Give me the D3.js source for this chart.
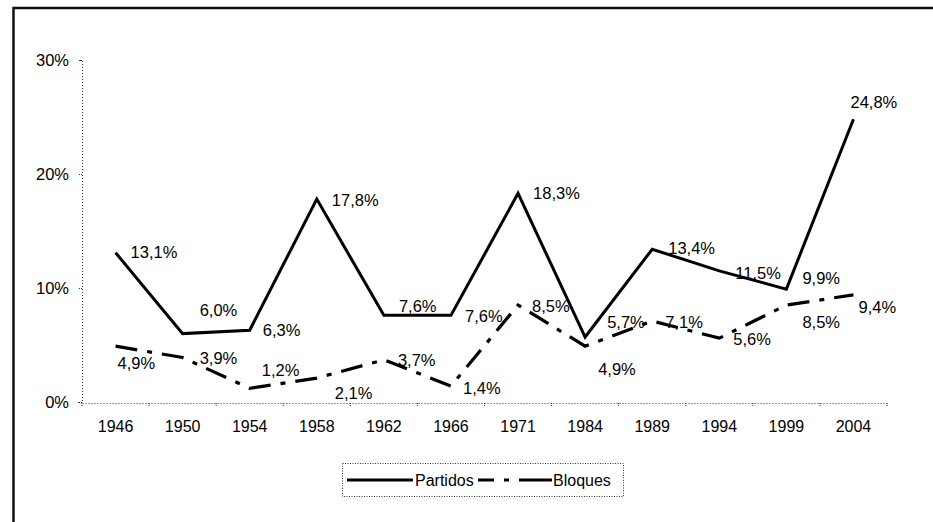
<!DOCTYPE html>
<html>
<head>
<meta charset="utf-8">
<script src="https://cdn.jsdelivr.net/npm/d3@7"></script>
<style>
  html, body { margin: 0; padding: 0; background: #fff; }
  svg { display: block; font-family: Arial, "Liberation Sans", sans-serif; }
</style>
</head>
<body>
<div id="wrapper"></div>
<script>
// DATA
const years = ["1946", "1950", "1954", "1958", "1962", "1966", "1971", "1984", "1989", "1994", "1999", "2004"]
const partidos = [13.1, 6.0, 6.3, 17.8, 7.6, 7.6, 18.3, 5.7, 13.4, 11.5, 9.9, 24.8]
const bloques = [4.9, 3.9, 1.2, 2.1, 3.7, 1.4, 8.5, 4.9, 7.1, 5.6, 8.5, 9.4]
const yTicks = [0, 10, 20, 30]
const seriesNames = ["Partidos", "Bloques"]

const fmt = v => v.toFixed(1).replace(".", ",") + "%"

// DIMENSIONS
const dimensions = {
  width: 933,
  height: 522,
  margin: { top: 60, right: 46, bottom: 120, left: 82 }
}
dimensions.boundedWidth = dimensions.width - dimensions.margin.left - dimensions.margin.right
dimensions.boundedHeight = 402 - dimensions.margin.top

const svg = d3.select("#wrapper").append("svg")
  .attr("width", dimensions.width)
  .attr("height", dimensions.height)

// scanned page frame (left and top edges only)
svg.append("path")
  .attr("d", "M13.5,522 V8 H933")
  .attr("fill", "none")
  .attr("stroke", "#111")
  .attr("stroke-width", 2.5)

const bounds = svg.append("g")
  .attr("transform", `translate(${dimensions.margin.left},${dimensions.margin.top})`)

// SCALES
const xScale = d3.scaleBand()
  .domain(years)
  .range([0, dimensions.boundedWidth])
  .padding(0)

const yScale = d3.scaleLinear()
  .domain([0, 30])
  .range([dimensions.boundedHeight, 0])

const xc = d => xScale(d) + xScale.bandwidth() / 2

// AXES
const yAxis = bounds.append("g")
  .call(d3.axisLeft(yScale).tickValues(yTicks).tickFormat(d => d + "%").tickSize(4).tickPadding(9))
yAxis.select(".domain").attr("stroke", "#333").attr("stroke-dasharray", "1,2")
yAxis.selectAll(".tick line").attr("stroke", "#333").attr("stroke-dasharray", "1,1")
yAxis.selectAll("text").attr("fill", "#000").style("font-size", "16.5px")

const xAxis = bounds.append("g")
  .attr("transform", `translate(0,${dimensions.boundedHeight + 1})`)
  .call(d3.axisBottom(xScale).tickSize(0).tickPadding(18))
xAxis.select(".domain").attr("stroke", "#333").attr("stroke-dasharray", "1,2")
xAxis.selectAll("text").attr("fill", "#000").style("font-size", "16px")

// category boundary ticks
xAxis.selectAll(".bound")
  .data(years.concat(["end"]))
  .enter().append("line")
  .attr("x1", (d, i) => i * xScale.bandwidth())
  .attr("x2", (d, i) => i * xScale.bandwidth())
  .attr("y1", 0).attr("y2", 4)
  .attr("stroke", "#333")
  .attr("stroke-dasharray", "1,1")

// LINES
const line = d3.line()
  .x((d, i) => xc(years[i]))
  .y(d => yScale(d))

bounds.append("path")
  .datum(partidos)
  .attr("d", line)
  .attr("fill", "none")
  .attr("stroke", "#000")
  .attr("stroke-width", 3)
  .attr("stroke-linejoin", "miter")

bounds.append("path")
  .datum(bloques)
  .attr("d", line)
  .attr("fill", "none")
  .attr("stroke", "#000")
  .attr("stroke-width", 3.2)
  .attr("stroke-dasharray", "22,10,5,10")

// DATA LABELS (offsets from each point, in px)
const partidosLabelOffset = [[15, 0], [17, -23], [13, 0], [15, 1], [15, -9], [14, 1], [15, 0], [22, -15], [16, -1], [16, 2], [16, -11], [-3, -17]]
const bloquesLabelOffset = [[2, 17], [17, 1], [12, -18], [18, 15], [14, 0], [12, 2], [14, 1], [13, 23], [13, 1], [14, 1], [16, 17], [5, 12]]

function drawLabels(values, offsets) {
  bounds.append("g").selectAll("text")
    .data(values)
    .enter().append("text")
    .attr("x", (d, i) => xc(years[i]) + offsets[i][0])
    .attr("y", (d, i) => yScale(d) + offsets[i][1])
    .attr("dy", "0.35em")
    .attr("fill", "#000")
    .style("font-size", "16.5px")
    .text(d => fmt(d))
}
drawLabels(partidos, partidosLabelOffset)
drawLabels(bloques, bloquesLabelOffset)

// LEGEND
const legend = svg.append("g")
legend.append("rect")
  .attr("x", 342.5).attr("y", 463.5)
  .attr("width", 281).attr("height", 33)
  .attr("fill", "none")
  .attr("stroke", "#333")
  .attr("stroke-dasharray", "1,1.5")

legend.append("line")
  .attr("x1", 347).attr("x2", 413).attr("y1", 480).attr("y2", 480)
  .attr("stroke", "#000").attr("stroke-width", 3)
legend.append("text")
  .attr("x", 415).attr("y", 480).attr("dy", "0.35em")
  .style("font-size", "16px")
  .text(seriesNames[0])

legend.append("line")
  .attr("x1", 478).attr("x2", 552).attr("y1", 480).attr("y2", 480)
  .attr("stroke", "#000").attr("stroke-width", 3.2)
  .attr("stroke-dasharray", "16,10,5,10,40")
legend.append("text")
  .attr("x", 553).attr("y", 480).attr("dy", "0.35em")
  .style("font-size", "16px")
  .text(seriesNames[1])
</script>
</body>
</html>
